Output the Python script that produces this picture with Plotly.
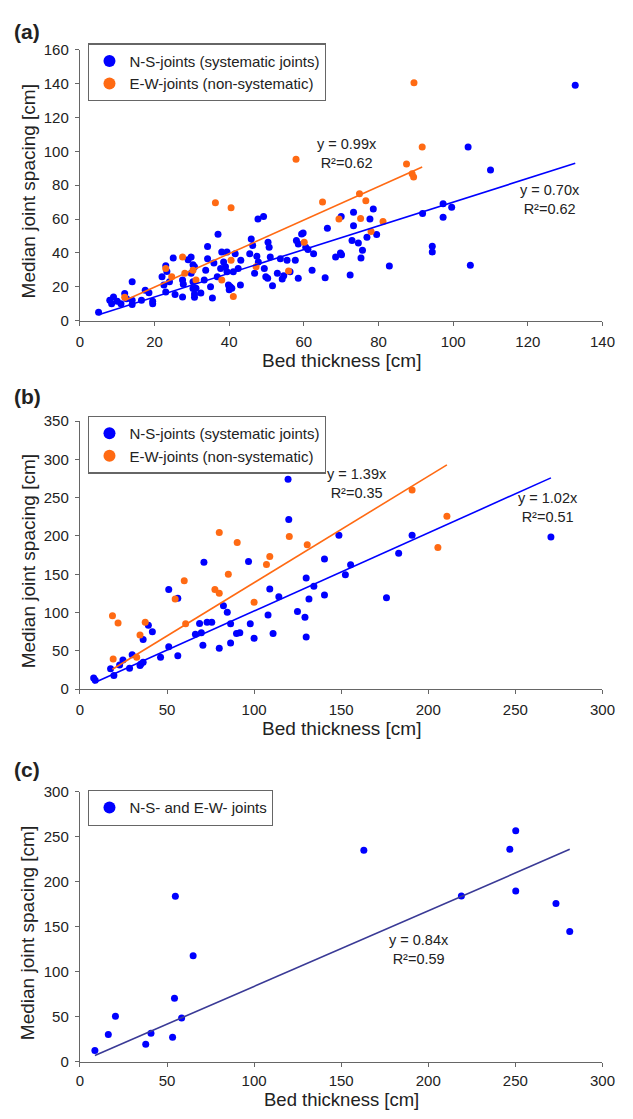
import plotly.graph_objects as go

# ---------------- data ----------------
# Panel (a)
a_ns_x = [5, 8, 8.5, 9, 10, 11, 12, 12.5, 14, 14, 14, 16.5, 17.5, 18.5, 19.5, 19.5,
          22, 22.5, 23, 23, 23.3, 24, 25, 25.5, 27.5, 27.5, 27.7, 29, 29.8, 29.8,
          30.3, 30.7, 30.3, 30.3, 30.7, 30.7, 31.1, 32.4, 33.3, 33.7, 34.2, 34.2,
          35, 35.5, 35.9, 36.8, 37, 37.7, 38, 38.5, 39, 39.4, 39.4, 39.8, 40, 40.3,
          40.7, 41.1, 41.6, 42.4, 43, 43.1, 45.5, 45.9, 46.3, 46.8, 47.4, 47.7, 47.8,
          49.2, 49.4, 49.8, 50.3, 50.4, 50.7, 51, 51.6, 52.9, 53.7, 54.2, 54.6, 55.5,
          56.3, 57.7, 58, 58.5, 58.5, 59.4, 59.8, 60.5, 61.1, 62.2, 62.6, 65.7, 66.3,
          68.5, 69.8, 70, 70.1, 72.4, 72.9, 73.3, 73.3,
          132.7, 104, 110, 97.3, 99.6, 91.8, 97.3, 78.6, 77.7, 79.5, 76.9, 74.6,
          75.7, 75.3, 82.9, 94.4, 94.4, 104.6]
a_ns_y = [5, 12, 10, 14, 11.5, 10, 16, 13, 23, 12, 9.5, 12, 18, 16.5, 11.5, 10,
          26, 21, 17, 32.5, 29, 23, 37, 15.5, 24, 14, 21.5, 36, 37.6, 28,
          33, 31.8, 23, 19, 15.7, 13.8, 19.2, 16.3, 24, 29.8, 43.8, 36.6,
          20, 13.4, 34, 26, 51, 30.8, 40.5, 34.7, 31.8, 40.5, 28.9, 21, 18.2, 20,
          19.2, 28.9, 39.5, 30.8, 21, 35.7, 39.5, 48.3, 44.4, 28, 38, 60, 34.7,
          61.5, 30.8, 26, 25, 46.3, 43.4, 37.6, 20.7, 28, 36.6, 24.6, 26.6, 35.7,
          28.9, 35.7, 47.3, 45.3, 25, 51.2, 51.7, 43.4, 42, 29.8, 39.5, 25.4, 54.5,
          37.6, 40, 61.5, 39, 27, 47.3, 56, 64,
          139, 102.6, 89, 69, 67, 63.3, 61, 66, 60, 50.9, 49.3, 45.8,
          41.6, 37, 32.3, 44, 40.6, 32.8]
a_ew_x = [12, 23, 24.6, 27.5, 28.1, 30.3, 31.1, 36.3, 38, 40.5, 40.5, 41.1, 47.2,
          55.9, 57.9, 60.1, 65, 69.4, 89.5, 91.7, 87.5, 89, 89.4, 74.9, 76.6,
          81.2, 75.2, 78]
a_ew_y = [13.8, 30.8, 26, 37.6, 28, 29.8, 24, 69.6, 24, 66.7, 35.7, 14.3, 31.8,
          29.3, 95.3, 46.3, 70, 60, 140.4, 102.6, 92.5, 86.7, 84.8, 75, 70.8,
          58.6, 60.4, 52.6]
a_ns_slope, a_ew_slope = 0.70, 0.99
a_ns_r2, a_ew_r2 = 0.62, 0.62

# Panel (b)
b_ns_x = [7.9, 8.8, 17.6, 19.5, 22.8, 24.7, 28.5, 30, 34.5, 35, 36.3, 36.3, 39.3,
          41.6, 46.3, 51, 51, 56.2, 56.2, 66.3, 68.7, 69.7, 70.6, 71.2, 73, 75.7,
          80, 82.4, 84.6, 86.5, 86.5, 89.9, 91.8, 97.8, 96.8, 100, 108, 109,
          110.9, 114.2, 119.5, 119.9, 124.9, 129.2, 129.9, 129.9, 131.5, 134.3,
          140.4, 140.4, 148.7, 152.4, 155.4, 176, 183, 190.7, 270.4]
b_ns_y = [14.6, 11.6, 26.6, 18, 31.7, 38, 27.4, 45, 30.8, 33, 35.1, 65, 83.5,
          75, 41.6, 55.3, 130, 118.7, 43.7, 71.6, 85.7, 73.7, 57.4, 165.8, 87.4, 87.4,
          53.6, 108.8, 100.3, 85.3, 60.4, 72.8, 73.7, 85.3, 166.7, 66.4, 96.8, 130.7,
          72.8, 120.8, 274, 221.5, 101.5, 93.8, 145.2, 68.1, 117.8, 134.5,
          170, 123, 201, 149.5, 162.4, 119.5, 177.4, 201, 198.8]
b_ew_x = [19.1, 18.7, 21.9, 32.6, 34.5, 37.5, 54.7, 59.9, 60.7, 77.5, 80, 80,
          85.2, 90.3, 100, 107.1, 109, 120.2, 130.5, 190.7, 210.7, 205.5]
b_ew_y = [39.4, 96, 86.5, 41.6, 70.7, 87.4, 117.8, 141.4, 85.3, 130.2, 125.1, 204.4,
          150, 191.5, 113.5, 162.8, 173.1, 199.2, 188.5, 260, 225.8, 185]
b_ns_slope, b_ew_slope = 1.02, 1.39
b_ns_r2, b_ew_r2 = 0.51, 0.35

# Panel (c)
c_x = [8.6, 16.3, 20.4, 37.8, 40.8, 53.2, 54.3, 58.4, 65, 54.8, 163, 219,
       246.8, 250.2, 250.2, 273.3, 281.2]
c_y = [12.7, 30.4, 50.7, 19.6, 31.9, 27.5, 70.7, 48.9, 118, 184, 235.3, 184.5,
       236.3, 256.8, 190, 176, 145]
c_slope, c_r2 = 0.84, 0.59

names_ab = ["N-S-joints (systematic joints)", "E-W-joints (non-systematic)"]
name_c = "N-S- and E-W- joints"
x_title = "Bed thickness [cm]"
y_title = "Median joint spacing [cm]"

# ---------------- styling ----------------
W, H = 633, 1119
def px(x): return x / W
def py(y): return 1 - y / H

FONT = "Liberation Sans, Arial, sans-serif"
TXT = "#222222"
AX = "#666666"
BLUE = "#0000ff"
ORANGE = "#ff6a13"
NAVY = "#3a3a96"
MS = 7

fig = go.Figure()

def pts(x, y, color, name, xa, ya, leg):
    fig.add_trace(go.Scatter(x=x, y=y, mode="markers", name=name,
                             marker=dict(color=color, size=MS),
                             xaxis=xa, yaxis=ya, legend=leg))

def fit(x, slope, color, xa, ya):
    x0, x1 = min(x), max(x)
    fig.add_trace(go.Scatter(x=[x0, x1], y=[slope * x0, slope * x1], mode="lines",
                             line=dict(color=color, width=1.6), showlegend=False,
                             hoverinfo="skip", xaxis=xa, yaxis=ya))

pts(a_ns_x, a_ns_y, BLUE, names_ab[0], "x", "y", "legend")
pts(a_ew_x, a_ew_y, ORANGE, names_ab[1], "x", "y", "legend")
fit(a_ns_x, a_ns_slope, BLUE, "x", "y")
fit(a_ew_x, a_ew_slope, ORANGE, "x", "y")

pts(b_ns_x, b_ns_y, BLUE, names_ab[0], "x2", "y2", "legend2")
pts(b_ew_x, b_ew_y, ORANGE, names_ab[1], "x2", "y2", "legend2")
fit(b_ns_x, b_ns_slope, BLUE, "x2", "y2")
fit(b_ew_x, b_ew_slope, ORANGE, "x2", "y2")

pts(c_x, c_y, BLUE, name_c, "x3", "y3", "legend3")
fit(c_x, c_slope, NAVY, "x3", "y3")

XDOM = [px(78), px(615)]
def axis(domain, rng, dtick, anchor, standoff=3):
    return dict(domain=domain, range=rng, dtick=dtick, tick0=0, anchor=anchor,
                showline=True, linecolor=AX, linewidth=1.3, ticks="outside",
                ticklen=4, tickwidth=1.3, tickcolor=AX, showgrid=False,
                zeroline=False, ticklabelstandoff=standoff,
                tickfont=dict(family=FONT, size=15, color=TXT))

panels = [  # (y of x-axis px, y of top px)
    (316.5, 41.3), (690.7, 418.4), (1069.2, 795.0)]

layout = dict(width=W, height=H, margin=dict(l=0, r=0, t=0, b=0),
              paper_bgcolor="white", plot_bgcolor="white",
              font=dict(family=FONT, color=TXT), showlegend=True)
layout["xaxis"] = axis(XDOM, [0, 140], 20, "y")
layout["yaxis"] = axis([py(panels[0][0]), py(panels[0][1])], [0, 160], 20, "x")
layout["xaxis2"] = axis(XDOM, [0, 300], 50, "y2")
layout["yaxis2"] = axis([py(panels[1][0]), py(panels[1][1])], [0, 350], 50, "x2")
layout["xaxis3"] = axis(XDOM, [0, 300], 50, "y3", standoff=1)
layout["yaxis3"] = axis([py(panels[2][0]), py(panels[2][1])], [0, 300], 50, "x3")

def legend(top):
    return dict(x=px(86.5), y=py(top), xanchor="left", yanchor="top",
                bgcolor="white", bordercolor=AX, borderwidth=1.3,
                font=dict(family=FONT, size=15, color=TXT),
                itemsizing="constant", tracegroupgap=0)
layout["legend"] = legend(35)
layout["legend2"] = legend(413)
layout["legend3"] = legend(793)

ann = []
def text(x, y, s, size=15, **kw):
    ann.append(dict(x=px(x), y=py(y), xref="paper", yref="paper", text=s,
                    showarrow=False, font=dict(family=FONT, size=size, color=TXT),
                    **kw))

for lab, y in [("(a)", 23), ("(b)", 393), ("(c)", 772)]:
    text(8, y, "<b>%s</b>" % lab, size=21, xanchor="left", yanchor="middle")
for i, (xb, yt) in enumerate(panels):
    text(25, (xb + yt) / 2 + 6, y_title, size=19, textangle=-90,
         xanchor="center", yanchor="middle")
    if i < 2:
        text(347, xb + 40, x_title, size=19, xanchor="center", yanchor="middle")
    else:
        text(347, 1107.5, x_title, size=18.5, xanchor="center", yanchor="middle")

eqs = [
    (352, 147, a_ew_slope, a_ew_r2),
    (561, 193, a_ns_slope, a_ns_r2),
    (363, 481.5, b_ew_slope, b_ew_r2),
    (559, 506, b_ns_slope, b_ns_r2),
    (426, 955, c_slope, c_r2),
]
for x, y, s, r2 in eqs:
    text(x, y, "y = %.2fx<br>R\u00b2=%.2f" % (s, r2), size=14.5,
         xanchor="center", yanchor="middle")

layout["annotations"] = ann
fig.update_layout(**layout)
fig.write_html("out.html", config={"displayModeBar": False},
               post_script="document.body.style.margin='0';document.body.style.overflow='hidden';")
